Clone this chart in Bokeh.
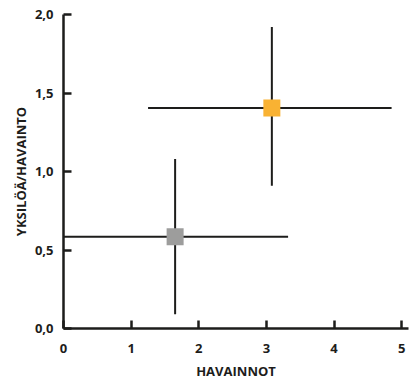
from bokeh.plotting import figure
from bokeh.models import ColumnDataSource, FixedTicker, CustomJSTickFormatter, Range1d
from bokeh.embed import file_html
from bokeh.resources import INLINE

# Data
names = ["A", "B"]
x_vals = [1.65, 3.08]
y_vals = [0.585, 1.405]
x_low = [0.0, 1.25]
x_high = [3.32, 4.85]
y_low = [0.09, 0.91]
y_high = [1.08, 1.92]
colors = ["#9d9d9c", "#f9b233"]

x_ticks = [0, 1, 2, 3, 4, 5]
y_ticks = [0.0, 0.5, 1.0, 1.5, 2.0]

src = ColumnDataSource(dict(name=names, x=x_vals, y=y_vals, xl=x_low, xh=x_high,
                            yl=y_low, yh=y_high, c=colors))

p = figure(width=412, height=388, output_backend="svg", toolbar_location=None,
           x_range=Range1d(0, 5.1), y_range=Range1d(0, 2.0),
           min_border_left=63, min_border_right=4, min_border_top=14, min_border_bottom=60)
p.outline_line_color = None
p.grid.visible = False

line_col = "#1d1d1b"
p.segment(x0="xl", y0="y", x1="xh", y1="y", source=src, line_color=line_col, line_width=2)
p.segment(x0="x", y0="yl", x1="x", y1="yh", source=src, line_color=line_col, line_width=2)
p.scatter(x="x", y="y", source=src, marker="square", size=17, fill_color="c", line_color=None)

font = "Open Sans"
for ax in (p.xaxis[0], p.yaxis[0]):
    ax.axis_line_width = 2.5
    ax.axis_line_color = line_col
    ax.major_tick_line_width = 2.5
    ax.major_tick_line_color = line_col
    ax.major_tick_in = 8
    ax.major_tick_out = 0
    ax.minor_tick_line_color = None
    ax.major_label_text_font = font
    ax.major_label_text_font_style = "bold"
    ax.major_label_text_font_size = "13px"
    ax.major_label_text_color = line_col
    ax.axis_label_text_font = font
    ax.axis_label_text_font_style = "bold"
    ax.axis_label_text_font_size = "13px"
    ax.axis_label_text_color = line_col

p.xaxis.ticker = FixedTicker(ticks=x_ticks)
p.yaxis.ticker = FixedTicker(ticks=y_ticks)
p.yaxis.formatter = CustomJSTickFormatter(code="return tick.toFixed(1).replace('.', ',');")
p.xaxis.major_label_standoff = 15
p.yaxis.major_label_standoff = 10
p.xaxis.axis_label = "HAVAINNOT"
p.yaxis.axis_label = "YKSILÖÄ/HAVAINTO"
p.xaxis.axis_label_standoff = 6
p.yaxis.axis_label_standoff = 2

open("out.html", "w").write(file_html(p, INLINE))
